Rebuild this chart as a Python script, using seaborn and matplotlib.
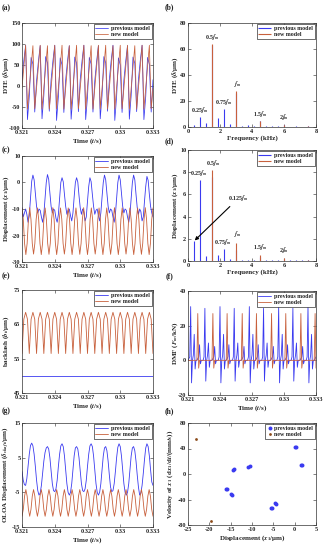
import numpy as np
import pandas as pd
import matplotlib
matplotlib.use("Agg")
import matplotlib.pyplot as plt
import seaborn as sns

# ------------------------------------------------------------------ data
time_ticks = [0.321, 0.324, 0.327, 0.33, 0.333]
time_ticklabels = ['0.321', '0.324', '0.327', '0.33', '0.333']
t_start, t_end = 0.321, 0.333

# (a) DTE, sampled every quarter of a 0.5 f_m period
dte_prev = [15, 60, 97, -80, -25, 68, 52, -62,
            12, 58, 96, -78, -22, 70, 55, -60,
            15, 60, 97, -82, -25, 67, 50, -63,
            14, 59, 96, -79, -23, 69, 54, -61,
            15, 60, 97, -80, -25, 68, 52, -62,
            12, 58, 96, -78, -22, 70, 55, -60,
            15, 60, 97, -82, -25, 67, 50, -63,
            14, 59, 96, -79, -23, 69, 54, -61,
            15, 60, 97, -80, -25, 68, 52, -62,
            15]
dte_new = [-5, 45, 97, -55, -5, 45, 96, -54, -4, 46, 97, -55, -5, 45, 96, -55,
           -5, 45, 97, -54, -4, 45, 97, -55, -5, 46, 96, -55, -5, 45, 97, -54,
           -5, 45, 97, -55, -4, 45, 96, -55, -5, 46, 97, -54, -5, 45, 97, -55,
           -5, 45, 96, -55, -4, 46, 97, -54, -5, 45, 97, -55, -5, 45, 96, -55,
           -4, 45, 97, -55, -5, 46, 97, -54, -5]

# (b) DTE spectrum
freq_prev = [0.375, 0.75, 1.125, 1.5, 1.875, 2.25, 2.625, 3.0, 3.375, 3.75,
             4.125, 4.5, 4.875, 5.25, 5.625, 6.0, 6.375, 6.75, 7.125, 7.5]
dte_amp_prev = [1.5, 7.5, 3.0, 63, 7.0, 14.0, 2.5, 26, 1.0, 1.2,
                0.8, 4.5, 0.5, 0.8, 0.4, 1.8, 0.3, 0.5, 0.3, 0.5]
freq_new = [1.5, 3.0, 4.5, 6.0, 7.5]
dte_amp_new = [64, 27.5, 5.0, 1.8, 0.6]

# (c) displacement x1, sampled every sixth of a 0.5 f_m period
disp_prev = [-9.5, -13, -11.5, -10, -12, -15, -12.5, -6, 0.5,
             2.8, 1, -4, -9, -11.5, -10, -10.5, -13, -15, -12, -6, 0,
             3.0, 1.2, -4, -9, -11.5, -10, -10.5, -13.5, -15, -12, -6, 0,
             1.8, 0.3, -4.5, -9, -12, -10.5, -10, -12.5, -14.5, -11.5, -5.5, 0,
             1.8, 0.2, -5, -9.5, -12, -10, -11, -14.5, -13, -7, -1.5,
             1.8, 0.3, -4.5, -9, -12, -10.5, -10, -12.5, -14.5, -11.5, -5.5, 0,
             2.8, 1, -4, -9, -11.5, -10, -10.5, -13, -15, -12, -6, 0,
             2.8, 1, -4, -9, -11.5, -10, -10.5, -13, -15, -12, -6, 0,
             2.8, 1, -4.5, -9.5, -12, -10, -11, -14.5, -13, -7, -1.5,
             2.3, 0.8, -4.5, -9, -11.5, -13]
disp_new = [-9.6, -14, -23, -27.2, -23, -14, -9.5, -14, -23, -27, -23, -14,
            -9.6, -14, -23, -27.2, -23, -14, -9.6, -14, -23, -27.1, -23, -14,
            -9.5, -14, -23, -27.2, -23, -14, -9.6, -14, -23, -27, -23, -14,
            -9.6, -14, -23, -27.2, -23, -14, -9.6, -14, -23, -27.1, -23, -14,
            -9.5, -14, -23, -27.2, -23, -14, -9.6, -14, -23, -27, -23, -14,
            -9.6, -14, -23, -27.2, -23, -14, -9.6, -14, -23, -27.1, -23, -14,
            -9.5, -14, -23, -27.2, -23, -14, -9.6, -14, -23, -27, -23, -14,
            -9.6, -14, -23, -27.2, -23, -14, -9.6, -14, -23, -27.1, -23, -14,
            -9.5, -14, -23, -27.2, -23, -14, -9.6]

# (d) displacement spectrum
disp_amp_prev = [1.8, 7.3, 0.45, 7.6, 0.5, 1.1, 0.2, 1.0, 0.1, 0.1,
                 0.1, 0.35, 0.05, 0.05, 0.05, 0.2, 0.05, 0.05, 0.05, 0.05]
disp_amp_new = [8.2, 1.6, 0.55, 0.3, 0.1]

# (e) backlash
backlash_prev = [50, 50]
backlash_new = [56.5, 66.5, 68.5, 66.5, 56.5, 66.5, 68.5, 66.5, 56.5, 66.5, 68.5, 66.5,
                56.5, 66.5, 68.5, 66.5, 56.5, 66.5, 68.5, 66.5, 56.5, 66.5, 68.5, 66.5,
                56.5, 66.5, 68.5, 66.5, 56.5, 66.5, 68.5, 66.5, 56.5, 66.5, 68.5, 66.5,
                56.5, 66.5, 68.5, 66.5, 56.5, 66.5, 68.5, 66.5, 56.5, 66.5, 68.5, 66.5,
                56.5, 66.5, 68.5, 66.5, 56.5, 66.5, 68.5, 66.5, 56.5, 66.5, 68.5, 66.5,
                56.5, 66.5, 68.5, 66.5, 56.5, 66.5, 68.5, 66.5, 56.5, 66.5, 68.5, 66.5,
                56.5]

# (f) dynamic mesh force, sampled every eighth of a 0.5 f_m period
dmf_prev = [0, 1, 2,
            31, -13, 0, 3, 15, -5, 0, 0, 1, 2, 9, -2, 0, 0, 0, 2,
            30, -12, 0, 3, 10, -4, 0, 0, 0, 1, 2, 8, -2, 0, 0, 0, 2,
            31, -13, 0, 3, 15, -5, 0, 0, 1, 2, 9, -2, 0, 0, 0, 2,
            30, -12, 0, 3, 10, -4, 0, 0, 0, 1, 2, 8, -2, 0, 0, 0, 2,
            31, -13, 0, 3, 15, -5, 0, 0, 1, 2, 9, -2, 0, 0, 0, 2,
            30, -12, 0, 3, 10, -4, 0, 0, 0, 1, 2, 8, -2, 0, 0, 0, 2,
            31, -13, 0, 3, 15, -5, 0, 0, 1, 2, 9, -2, 0, 0, 0, 2,
            30, -12, 0, 3, 10, -4, 0, 0, 0, 1, 2, 8, -2, 0, 0, 0, 2,
            31, -13, 0, 3, 15, -5, 0, 0, 1, 2]
dmf_new = [0, 0, 0,
           0, 0, 0, 0, 0, 0, 0, 0, 27, -4.5, 0, 0, 0, 0, 0, 0,
           0, 0, 0, 0, 0, 0, 0, 0, 0, 27, -4.5, 0, 0, 0, 0, 0, 0,
           0, 0, 0, 0, 0, 0, 0, 0, 27, -4.5, 0, 0, 0, 0, 0, 0,
           0, 0, 0, 0, 0, 0, 0, 0, 0, 27, -4.5, 0, 0, 0, 0, 0, 0,
           0, 0, 0, 0, 0, 0, 0, 0, 27, -4.5, 0, 0, 0, 0, 0, 0,
           0, 0, 0, 0, 0, 0, 0, 0, 0, 27, -4.5, 0, 0, 0, 0, 0, 0,
           0, 0, 0, 0, 0, 0, 0, 0, 27, -4.5, 0, 0, 0, 0, 0, 0,
           0, 0, 0, 0, 0, 0, 0, 0, 0, 27, -4.5, 0, 0, 0, 0, 0, 0,
           0, 0, 0, 0, 0, 0, 0, 0, 27, -4.5]

# (g) OLOA displacement, sampled every sixth of a 0.5 f_m period
oloa_prev = [1, -1.5, -2.8, -3, -1, 2.5, 6, 8.5,
             9.2, 8.4, 6, 2.5, -1.5, -4.5, -5.8, -5.2, -3, 0.5, 4, 6.5, 7.8,
             8.2, 7.5, 5, 1.2, -2.5, -4.5, -4.8, -4, -1.5, 2.5, 6, 8.4,
             9.0, 8.2, 5.5, 1.5, -2.5, -5, -5.8, -5, -2.5, 1.5, 5.5, 7.8,
             8.2, 7.5, 5, 1.2, -2.5, -4.5, -4.8, -4, -1.5, 2.5, 6, 8.4,
             9.0, 8.2, 5.5, 1.5, -2.5, -5, -5.8, -5, -2.5, 1.5, 5.5, 7.8,
             8.2, 7, 4, 0, -3.5, -4.8, -4.5, -2.5, 1, 5, 8,
             9.0, 8.2, 5.5, 1.5, -2.5, -5, -5.8, -5, -2.5, 1.5, 5.5, 7.8,
             8.2, 7, 4, 0, -3.5, -5.8, -5.2, -3, 0.5, 4.5, 7.8,
             9.0, 8.2, 5.5, 1.5, -2, -3]
oloa_new = [-11.9, -9.9, -6.1, -4.2, -6.1, -9.9, -11.9, -9.9, -6.1, -4.2, -6.1, -9.9,
            -11.9, -9.9, -6.1, -4.2, -6.1, -9.9, -11.9, -9.9, -6.1, -4.2, -6.1, -9.9,
            -11.9, -9.9, -6.1, -4.2, -6.1, -9.9, -11.9, -9.9, -6.1, -4.2, -6.1, -9.9,
            -11.9, -9.9, -6.1, -4.2, -6.1, -9.9, -11.9, -9.9, -6.1, -4.2, -6.1, -9.9,
            -11.9, -9.9, -6.1, -4.2, -6.1, -9.9, -11.9, -9.9, -6.1, -4.2, -6.1, -9.9,
            -11.9, -9.9, -6.1, -4.2, -6.1, -9.9, -11.9, -9.9, -6.1, -4.2, -6.1, -9.9,
            -11.9, -9.9, -6.1, -4.2, -6.1, -9.9, -11.9, -9.9, -6.1, -4.2, -6.1, -9.9,
            -11.9, -9.9, -6.1, -4.2, -6.1, -9.9, -11.9, -9.9, -6.1, -4.2, -6.1, -9.9,
            -11.9, -9.9, -6.1, -4.2, -6.1, -9.9, -11.9]

# (h) phase points
phase_prev_x = [0.1, 0.4, 1.5, 1.8, -14.5, -14.2, -10.9, -10.5,
                -16.1, -15.8, -14.9, -14.6, -5.6, -5.3, -4.6, -4.3]
phase_prev_y = [43, 42, 14, 13.5, 7, 8, 11.5, 12.5,
                -23, -24, -31.5, -32.5, -53, -54, -46, -47]
phase_new_x = [-23.2, -19.5]
phase_new_y = [54.6, -73]

# ------------------------------------------------------------------ style
sns.set_theme(style="ticks")
plt.rcParams['font.family'] = ['Liberation Serif', 'DejaVu Serif']
plt.rcParams['font.weight'] = 'bold'
plt.rcParams['axes.labelweight'] = 'bold'
plt.rcParams['mathtext.fontset'] = 'stix'

BLUE = '#3a3af0'
RED = '#c8603c'
BROWN = '#8b4a1a'
W, H = 327, 550
fig = plt.figure(figsize=(W / 100, H / 100), dpi=100)


def add_ax(l, r, t, b):
    return fig.add_axes([l / W, 1 - b / H, (r - l) / W, (b - t) / H])


def style(ax, xlim, xticks, xticklabels, ylim, yticks, xlabel, ylabel, ylab_x):
    ax.set_xlim(xlim)
    ax.set_ylim(ylim)
    ax.set_xticks(xticks)
    ax.set_xticklabels(xticklabels)
    ax.set_yticks(yticks)
    ax.set_yticklabels([str(v) for v in yticks])
    ax.tick_params(direction='in', length=2, width=0.4, labelsize=4.5, pad=1.2,
                   top=True, right=True, colors='#222222')
    for lab in ax.get_xticklabels() + ax.get_yticklabels():
        lab.set_fontweight('bold')
    ax.set_xlabel(xlabel, fontsize=5, fontweight='bold', labelpad=1)
    ax.set_ylabel(ylabel, fontsize=5, fontweight='bold')
    # place the y label (right edge of the rotated text) at a pixel column
    l = ax.get_position().x0 * W
    w = ax.get_position().width * W
    ax.yaxis.set_label_coords((ylab_x - l) / w, 0.5)
    for s in ax.spines.values():
        s.set_linewidth(0.5)
        s.set_color('#333333')


def legend(ax):
    lg = ax.legend(loc='upper right', fontsize=4.3, frameon=True, fancybox=False,
                   edgecolor='black', framealpha=1, borderpad=0.3,
                   handlelength=2.2, labelspacing=0.15, borderaxespad=0.15,
                   handletextpad=0.5)
    lg.get_frame().set_linewidth(0.4)


def timeseries(ax, prev, new, lw=0.6):
    tp = np.linspace(t_start, t_end, len(prev))
    tn = np.linspace(t_start, t_end, len(new))
    sns.lineplot(x=tp, y=prev, ax=ax, color=BLUE, lw=lw, label='previous model',
                 estimator=None, sort=False)
    sns.lineplot(x=tn, y=new, ax=ax, color=RED, lw=lw, label='new model',
                 estimator=None, sort=False)


def spectrum(ax, fp, ap, fn, an):
    ax.vlines(fp, 0, ap, colors=BLUE, lw=0.8, label='previous model')
    ax.vlines(fn, 0, an, colors=RED, lw=0.8, label='new model')


def letter(x, y, s):
    fig.text(x / W, 1 - y / H, s, fontsize=5.5, va='center', ha='left')


time_label = 'Time ($t$/s)'
freq_label = 'Frequency (kHz)'
LX, RX = 11, 180

# (a)
ax = add_ax(22, 153, 23, 128)
timeseries(ax, dte_prev, dte_new, lw=0.55)
style(ax, (t_start, t_end), time_ticks, time_ticklabels, (-100, 150),
      [-100, -50, 0, 50, 100, 150], time_label, 'DTE ($\\delta$/μm)', LX)
legend(ax)
letter(2, 8, '(a)')

# (b)
ax = add_ax(188, 316, 23, 127)
spectrum(ax, freq_prev, dte_amp_prev, freq_new, dte_amp_new)
style(ax, (0, 8), [0, 2, 4, 6, 8], ['0', '2', '4', '6', '8'], (0, 80),
      [0, 20, 40, 60, 80], freq_label, 'DTE ($\\delta$/μm)', RX)
legend(ax)
for x, y, s in [(0.75, 9, '0.25$f_m$'), (1.5, 65.5, '0.5$f_m$'), (2.25, 15.5, '0.75$f_m$'),
                (3.05, 29, '$f_m$'), (4.5, 6.5, '1.5$f_m$'), (6.0, 3.5, '2$f_m$')]:
    ax.text(x, y, s, fontsize=4.3, ha='center', va='bottom')
letter(165, 7, '(b)')

# (c)
ax = add_ax(22, 153, 156, 262)
timeseries(ax, disp_prev, disp_new)
style(ax, (t_start, t_end), time_ticks, time_ticklabels, (-30, 10),
      [-30, -20, -10, 0, 10], time_label, 'Displacement ($x_1$/μm)', LX)
legend(ax)
letter(2, 150, '(c)')

# (d)
ax = add_ax(188, 316, 150, 261)
spectrum(ax, freq_prev, disp_amp_prev, freq_new, disp_amp_new)
style(ax, (0, 8), [0, 2, 4, 6, 8], ['0', '2', '4', '6', '8'], (0, 10),
      [0, 2, 4, 6, 8, 10], freq_label, 'Displacement ($x_1$/μm)', RX)
legend(ax)
for x, y, s in [(0.65, 7.5, '0.25$f_m$'), (1.6, 8.4, '0.5$f_m$'), (2.15, 1.25, '0.75$f_m$'),
                (3.05, 2.0, '$f_m$'), (4.5, 0.8, '1.5$f_m$'), (6.0, 0.5, '2$f_m$')]:
    ax.text(x, y, s, fontsize=4.3, ha='center', va='bottom')
ax.annotate('0.125$f_m$', xy=(0.42, 1.85), xytext=(3.15, 5.2), fontsize=4.3,
            ha='center', va='bottom',
            arrowprops=dict(arrowstyle='-|>', color='black', lw=0.8,
                            mutation_scale=5, shrinkA=0, shrinkB=0))
letter(165, 141, '(d)')

# (e)
ax = add_ax(22, 153, 290, 393)
timeseries(ax, backlash_prev, backlash_new)
style(ax, (t_start, t_end), time_ticks, time_ticklabels, (45, 75),
      [45, 55, 65, 75], time_label, 'backlash ($b_t$/μm)', LX)
legend(ax)
letter(2, 276, '(e)')

# (f)
ax = add_ax(188, 316, 291, 395)
timeseries(ax, dmf_prev, dmf_new, lw=0.6)
style(ax, (t_start, t_end), time_ticks, time_ticklabels, (-20, 40),
      [-20, 0, 20, 40], time_label, 'DMF ($F_m$/kN)', RX)
legend(ax)
letter(166, 276, '(f)')

# (g)
ax = add_ax(22, 153, 423, 527)
timeseries(ax, oloa_prev, oloa_new)
style(ax, (t_start, t_end), time_ticks, time_ticklabels, (-15, 15),
      [-15, -5, 5, 15], time_label, 'OLOA Displacement ($\\delta_{shaft}$/μm)', LX)
legend(ax)
letter(2, 411, '(g)')

# (h)
ax = add_ax(188, 316, 423, 525)
sns.scatterplot(x=phase_prev_x, y=phase_prev_y, ax=ax, color=BLUE, s=8,
                edgecolor=BLUE, linewidth=0, label='previous model')
sns.scatterplot(x=phase_new_x, y=phase_new_y, ax=ax, color=BROWN, s=4,
                edgecolor=BROWN, linewidth=0, label='new model')
style(ax, (-25, 5), [-25, -20, -15, -10, -5, 0, 5],
      ['-25', '-20', '-15', '-10', '-5', '0', '5'], (-80, 80),
      [-80, -40, 0, 40, 80], 'Displacement ($x_1$/μm)',
      'Velocity of $x_1$ (d$x_1$/d$t$/(mm/s))', 175)
lg = ax.legend(loc='upper right', fontsize=4.3, frameon=True, fancybox=False,
               edgecolor='black', framealpha=1, borderpad=0.3, handlelength=1.0,
               labelspacing=0.15, borderaxespad=0.15, handletextpad=0.3)
lg.get_frame().set_linewidth(0.4)
letter(165, 411, '(h)')

fig.savefig('out.png', dpi=100)
